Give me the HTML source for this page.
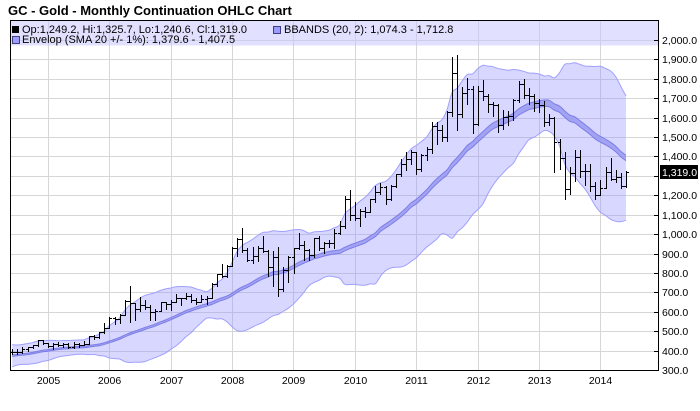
<!DOCTYPE html>
<html><head><meta charset="utf-8"><style>
html,body{margin:0;padding:0;background:#fff;}
svg{display:block;font-family:"Liberation Sans",Arial,sans-serif;}
</style></head><body>
<svg id="c" width="700" height="411" viewBox="0 0 700 411" xmlns="http://www.w3.org/2000/svg">
<rect x="0" y="0" width="700" height="411" fill="#fff"/>
<text x="8" y="15" font-size="13" font-weight="bold" fill="#000">GC - Gold - Monthly Continuation OHLC Chart</text>
<g stroke="#d6d6d6" stroke-width="1" shape-rendering="crispEdges">
<line x1="10" x2="658" y1="351.5" y2="351.5"/><line x1="10" x2="658" y1="331.5" y2="331.5"/>
<line x1="10" x2="658" y1="312.5" y2="312.5"/><line x1="10" x2="658" y1="292.5" y2="292.5"/>
<line x1="10" x2="658" y1="273.5" y2="273.5"/><line x1="10" x2="658" y1="254.5" y2="254.5"/>
<line x1="10" x2="658" y1="234.5" y2="234.5"/><line x1="10" x2="658" y1="215.5" y2="215.5"/>
<line x1="10" x2="658" y1="195.5" y2="195.5"/><line x1="10" x2="658" y1="176.5" y2="176.5"/>
<line x1="10" x2="658" y1="156.5" y2="156.5"/><line x1="10" x2="658" y1="137.5" y2="137.5"/>
<line x1="10" x2="658" y1="118.5" y2="118.5"/><line x1="10" x2="658" y1="98.5" y2="98.5"/>
<line x1="10" x2="658" y1="79.5" y2="79.5"/><line x1="10" x2="658" y1="59.5" y2="59.5"/>
<line x1="10" x2="658" y1="40.5" y2="40.5"/>
<line y1="20" y2="370" x1="48.5" x2="48.5"/><line y1="20" y2="370" x1="109.5" x2="109.5"/>
<line y1="20" y2="370" x1="171.5" x2="171.5"/><line y1="20" y2="370" x1="232.5" x2="232.5"/>
<line y1="20" y2="370" x1="293.5" x2="293.5"/><line y1="20" y2="370" x1="355.5" x2="355.5"/>
<line y1="20" y2="370" x1="416.5" x2="416.5"/><line y1="20" y2="370" x1="478.5" x2="478.5"/>
<line y1="20" y2="370" x1="539.5" x2="539.5"/><line y1="20" y2="370" x1="600.5" x2="600.5"/>
</g>
<g id="series"></g>
<rect x="10.5" y="20.5" width="648" height="25" fill="rgb(200,200,255)" fill-opacity="0.55"/>
<g shape-rendering="crispEdges">
<rect x="12" y="26" width="7" height="7" fill="#000"/>
<rect x="12.5" y="36.5" width="7" height="7" fill="#9c9cff" stroke="#404080"/>
<rect x="273.5" y="26.5" width="7" height="7" fill="#9c9cff" stroke="#404080"/>
</g>
<g font-size="11" fill="#000">
<text x="22" y="33">Op:1,249.2, Hi:1,325.7, Lo:1,240.6, Cl:1,319.0</text>
<text x="284" y="33">BBANDS (20, 2): 1,074.3 - 1,712.8</text>
<text x="22" y="43">Envelop (SMA 20 +/- 1%): 1,379.6 - 1,407.5</text>
</g>
<g stroke="#000" stroke-width="1" fill="none" shape-rendering="crispEdges">
<line x1="10" x2="659" y1="20.5" y2="20.5"/>
<line x1="10.5" x2="10.5" y1="20" y2="371"/>
<line x1="10" x2="659" y1="370.5" y2="370.5"/>
<line x1="658.5" x2="658.5" y1="20" y2="371"/>
<path d="M654 40.5H658M654 59.5H658M654 79.5H658M654 98.5H658M654 118.5H658M654 137.5H658M654 156.5H658M654 176.5H658M654 195.5H658M654 215.5H658M654 234.5H658M654 254.5H658M654 273.5H658M654 292.5H658M654 312.5H658M654 331.5H658M654 351.5H658"/>
</g>
<g font-size="10.5" fill="#000">
<text x="662" y="44">2,000.0</text><text x="662" y="63">1,900.0</text>
<text x="662" y="83">1,800.0</text><text x="662" y="102">1,700.0</text>
<text x="662" y="122">1,600.0</text><text x="662" y="141">1,500.0</text>
<text x="662" y="160">1,400.0</text>
<text x="662" y="199">1,200.0</text><text x="662" y="219">1,100.0</text>
<text x="662" y="238">1,000.0</text><text x="662" y="258">900.0</text>
<text x="662" y="277">800.0</text><text x="662" y="296">700.0</text>
<text x="662" y="316">600.0</text><text x="662" y="335">500.0</text>
<text x="662" y="355">400.0</text><text x="662" y="374">300.0</text>
</g>
<rect x="660" y="165" width="38" height="14" fill="#000"/>
<text x="662" y="176" font-size="10.5" fill="#fff">1,319.0</text>
<g font-size="10.5" fill="#000" text-anchor="middle">
<text x="48.5" y="384">2005</text><text x="109.5" y="384">2006</text>
<text x="171.5" y="384">2007</text><text x="232.5" y="384">2008</text>
<text x="293.5" y="384">2009</text><text x="355.5" y="384">2010</text>
<text x="416.5" y="384">2011</text><text x="478.5" y="384">2012</text>
<text x="539.5" y="384">2013</text><text x="600.5" y="384">2014</text>
</g>
</svg>
<script>
(function(){
var D=[
[393,407,381,395],[395,409,385,391],[391,416,389,408],[408,420,398,418],[418,431,412,429],[429,456,424,453],[453,457,432,438],
[438,439,419,423],[423,439,410,435],[435,446,424,428],[428,438,421,436],[436,437,414,417],[417,443,414,436],[436,438,418,430],[430,447,430,434],[434,476,433,473],[473,479,460,470],[470,497,467,495],[495,542,493,518],
[518,571,516,569],[569,575,538,564],[564,590,541,584],[584,662,584,654],[654,732,546,643],[643,646,560,616],[616,677,602,634],[634,659,613,627],[627,637,560,599],[599,614,560,606],[606,652,603,648],[648,650,612,638],
[638,663,608,652],[652,691,648,669],[669,671,636,669],[669,697,665,683],[683,691,652,660],[660,672,642,650],[650,686,648,667],[667,683,642,673],[673,749,672,743],[743,797,731,795],[795,848,777,783],[783,841,781,838],
[838,934,838,928],[928,978,888,975],[975,1033,910,917],[917,929,860,866],[866,934,850,887],[887,940,863,930],[930,988,909,914],[914,918,786,833],[833,912,735,884],[884,936,681,718],[718,829,705,816],[816,889,752,884],
[884,930,802,928],[928,1007,922,942],[942,962,865,916],[916,924,865,891],[891,982,884,979],[979,990,920,927],[927,959,904,955],[955,968,932,955],[955,1024,931,1008],[1008,1070,1003,1040],[1040,1196,1033,1182],[1182,1227,1075,1096],
[1096,1163,1073,1081],[1081,1128,1044,1118],[1118,1139,1088,1115],[1115,1181,1115,1180],[1180,1249,1163,1215],[1215,1265,1205,1245],[1245,1248,1157,1180],[1180,1252,1178,1248],[1248,1310,1241,1308],[1308,1388,1300,1359],[1359,1425,1330,1386],[1386,1432,1361,1421],
[1421,1424,1308,1333],[1333,1414,1327,1410],[1410,1447,1381,1439],[1439,1577,1420,1556],[1556,1578,1462,1536],[1536,1560,1478,1500],[1500,1633,1478,1628],[1628,1912,1608,1829],[1829,1923,1535,1620],[1620,1760,1602,1725],[1725,1804,1670,1746],[1746,1764,1523,1566],
[1566,1765,1562,1738],[1738,1792,1692,1711],[1711,1720,1628,1669],[1669,1680,1611,1664],[1664,1669,1527,1560],[1560,1640,1540,1604],[1604,1632,1564,1610],[1610,1694,1588,1692],[1692,1790,1683,1773],[1773,1798,1700,1719],[1719,1755,1672,1712],[1712,1723,1635,1676],
[1676,1696,1627,1663],[1663,1686,1555,1578],[1578,1617,1563,1596],[1596,1605,1321,1472],[1472,1488,1338,1393],[1393,1424,1180,1234],[1234,1348,1208,1313],[1313,1434,1275,1396],[1396,1434,1292,1327],[1327,1362,1251,1323],[1323,1362,1221,1250],[1250,1267,1182,1202],
[1202,1280,1200,1240],[1240,1345,1238,1322],[1322,1392,1277,1284],[1284,1331,1268,1296],[1296,1315,1240,1246],[1249.2,1325.7,1240.6,1319]
];
var pre=[318,347,367,347,334,336,364,346,354,375,384,386,398,416,400,396,426,387,393];
function X(i){return 12.2+i*5.115;}
function Y(v){return 370-(v-300)*330/1700;}
var cl=pre.concat(D.map(function(d){return d[3];}));
var U=[],L=[],EU=[],EL=[];
for(var i=0;i<D.length;i++){
  var w=cl.slice(i,i+20),m=0,s=0,k;
  for(k=0;k<20;k++)m+=w[k];m/=20;
  for(k=0;k<20;k++)s+=(w[k]-m)*(w[k]-m);s=Math.sqrt(s/20);
  var x=X(i);
  U.push([x,Y(m+2*s)]);L.push([x,Y(m-2*s)]);
  EU.push([x,Y(m*1.01)]);EL.push([x,Y(m*0.99)]);
}
function f(p){return p[0].toFixed(2)+','+p[1].toFixed(2);}
function cr(p){var d='';for(var i=0;i<p.length-1;i++){var p0=p[Math.max(i-1,0)],p1=p[i],p2=p[i+1],p3=p[Math.min(i+2,p.length-1)];
var c1=[p1[0]+(p2[0]-p0[0])/6,p1[1]+(p2[1]-p0[1])/6],c2=[p2[0]-(p3[0]-p1[0])/6,p2[1]-(p3[1]-p1[1])/6];
d+='C'+f(c1)+' '+f(c2)+' '+f(p2);}return d;}
function area(a,b){var br=b.slice().reverse();return 'M'+f(a[0])+cr(a)+'L'+f(br[0])+cr(br)+'Z';}
function line(a){return 'M'+f(a[0])+cr(a);}
var NS='http://www.w3.org/2000/svg',g=document.getElementById('series');
function P(d,attrs){var e=document.createElementNS(NS,'path');e.setAttribute('d',d);for(var k in attrs)e.setAttribute(k,attrs[k]);g.appendChild(e);}
P(area(U,L),{fill:'rgb(150,150,255)','fill-opacity':'0.38',stroke:'none'});
P(line(U),{fill:'none',stroke:'rgb(160,160,255)','stroke-width':'1'});
P(line(L),{fill:'none',stroke:'rgb(160,160,255)','stroke-width':'1'});
P(area(EU,EL),{fill:'rgb(150,150,240)','fill-opacity':'0.8',stroke:'none'});
P(line(EU),{fill:'none',stroke:'rgb(125,125,230)','stroke-width':'1'});
P(line(EL),{fill:'none',stroke:'rgb(125,125,230)','stroke-width':'1'});
var b='';
for(var i=0;i<D.length;i++){var d=D[i],x=Math.round(X(i))+0.5;
var yh=Math.round(Y(d[1])),yl=Math.round(Y(d[2]))+1,yo=Math.round(Y(d[0]))+0.5,yc=Math.round(Y(d[3]))+0.5;
b+='M'+x+' '+yh+'V'+yl+'M'+(x-2.5)+' '+yo+'H'+x+'M'+x+' '+yc+'H'+(x+2.5);}
P(b,{fill:'none',stroke:'#000','stroke-width':'1','shape-rendering':'crispEdges'});
})();
</script>
</body></html>
